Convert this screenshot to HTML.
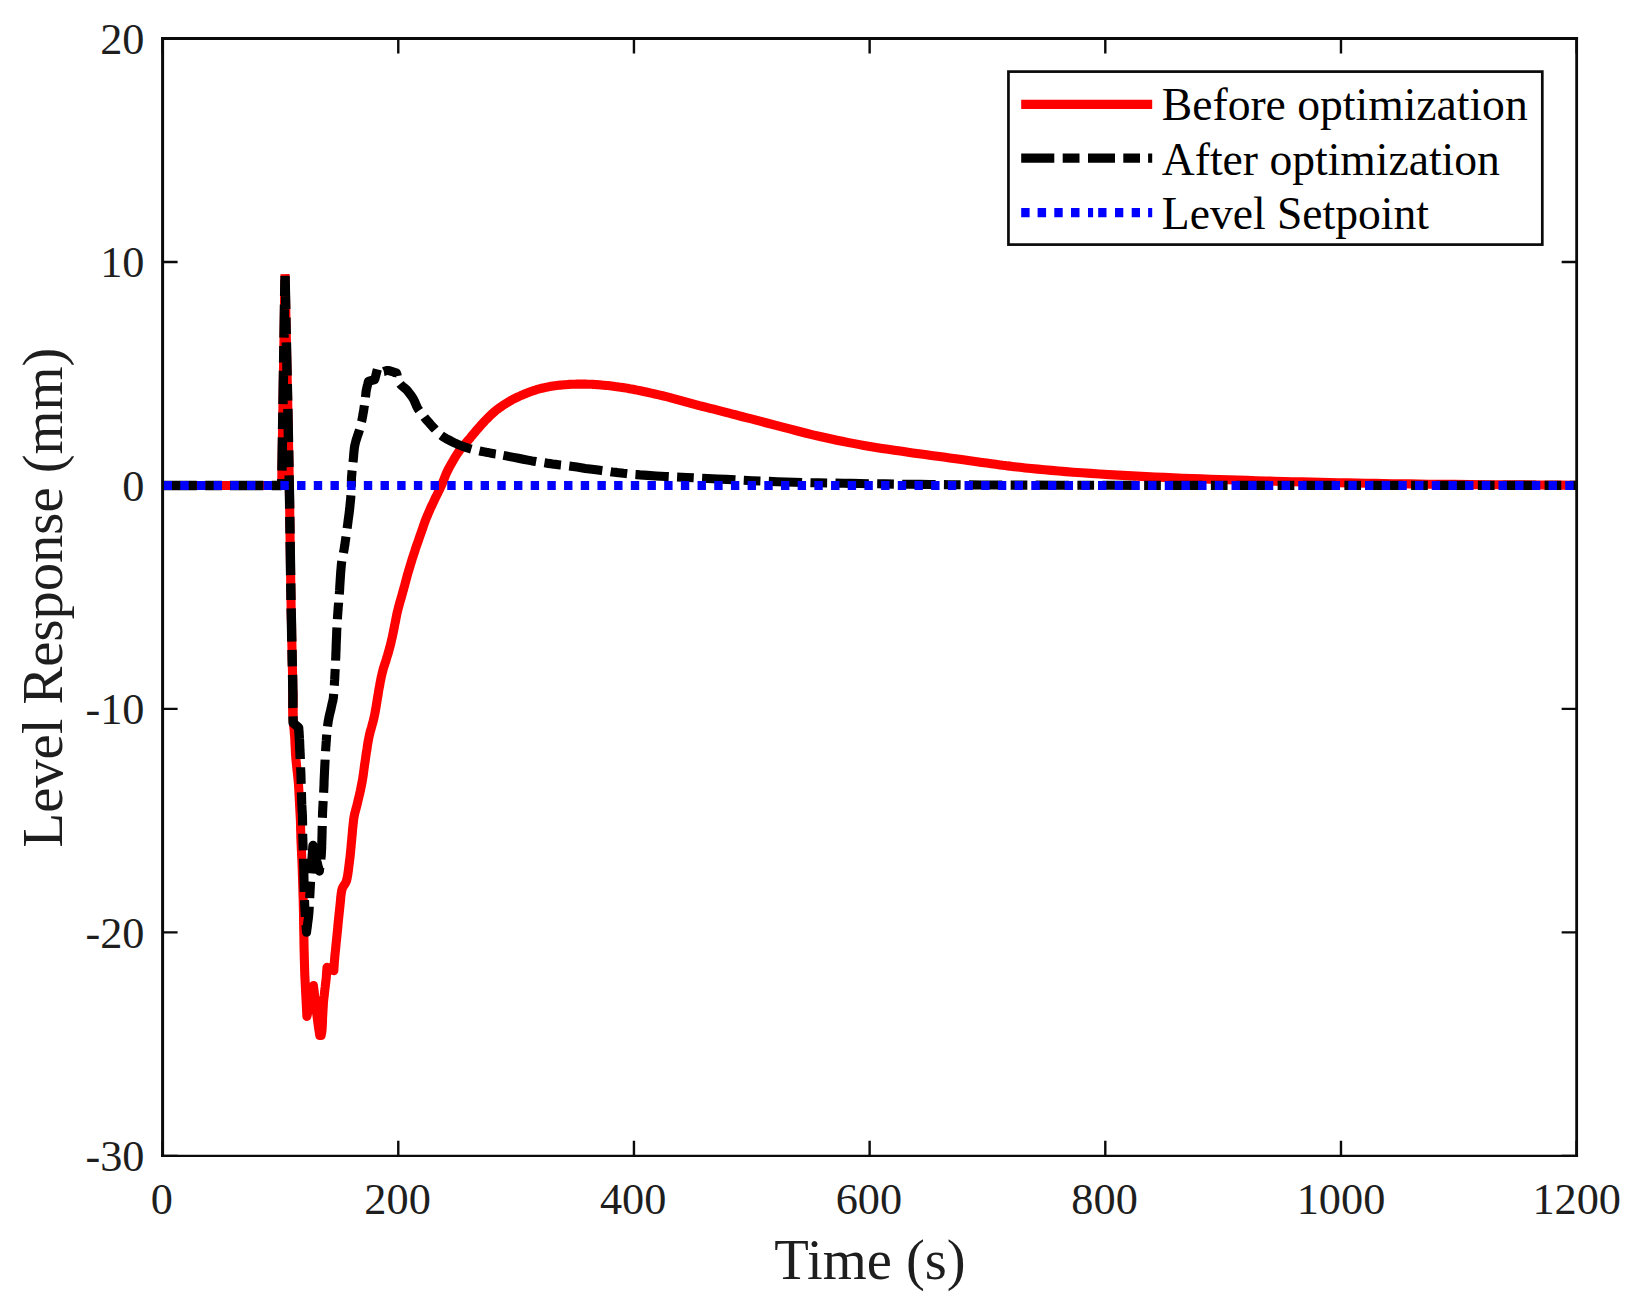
<!DOCTYPE html>
<html><head><meta charset="utf-8"><title>Level Response</title>
<style>html,body{margin:0;padding:0;background:#fff}svg{display:block}text{font-family:"Liberation Serif","Times New Roman",serif}</style>
</head><body>
<svg width="1640" height="1302" viewBox="0 0 1640 1302">
<rect width="1640" height="1302" fill="#fff"/>
<path d="M162.60 1155.85v-15M162.60 38.5v15M398.28 1155.85v-15M398.28 38.5v15M633.95 1155.85v-15M633.95 38.5v15M869.63 1155.85v-15M869.63 38.5v15M1105.30 1155.85v-15M1105.30 38.5v15M1340.98 1155.85v-15M1340.98 38.5v15M1576.65 1155.85v-15M1576.65 38.5v15M162.6 1155.85h15M1576.65 1155.85h-15M162.6 932.38h15M1576.65 932.38h-15M162.6 708.91h15M1576.65 708.91h-15M162.6 485.44h15M1576.65 485.44h-15M162.6 261.97h15M1576.65 261.97h-15M162.6 38.50h15M1576.65 38.50h-15" stroke="#0a0a0a" stroke-width="2.4" fill="none"/>
<clipPath id="ax"><rect x="162.6" y="38.5" width="1414.05" height="1117.35"/></clipPath><g clip-path="url(#ax)" fill="none" stroke-linejoin="round" stroke-width="9.1"><path d="M162.5 485.5L281.7 485.5L285.0 274.2L285.6 301.1L286.1 328.5L286.7 356.3L287.3 383.9L287.9 411.0L288.4 437.2L288.9 462.2L289.3 485.5L289.6 501.6L289.8 516.9L290.0 531.6L290.2 545.8L290.4 559.6L290.6 573.2L290.8 586.6L291.0 600.0L291.2 612.1L291.5 624.5L291.7 636.9L292.0 649.0L292.2 660.6L292.5 671.5L292.7 681.4L292.8 690.0L292.9 694.1L292.9 697.7L292.9 701.1L292.9 704.2L292.9 707.3L293.0 710.2L293.0 713.3L293.0 716.5" stroke="#f00" stroke-linejoin="bevel"/><path d="M292.8 690.0L292.8 693.3L292.8 696.7L292.8 700.1L292.8 703.5L292.8 706.9L292.8 710.2L292.9 713.4L293.0 716.5L293.1 719.1L293.3 721.6L293.5 724.0L293.7 726.4L294.0 728.7L294.2 731.1L294.4 733.5L294.6 736.0L294.8 738.7L294.9 741.4L295.0 744.1L295.2 746.9L295.3 749.6L295.4 752.4L295.6 755.2L295.8 758.0L296.1 761.0L296.4 763.9L296.7 766.9L297.0 770.0L297.4 773.0L297.7 776.0L298.0 779.0L298.3 782.0L298.5 784.9L298.7 787.9L298.9 790.9L299.0 793.8L299.2 796.8L299.3 799.6L299.5 802.4L299.6 805.0L299.7 807.0L299.8 808.9L299.9 810.8L300.0 812.6L300.1 814.4L300.2 816.2L300.3 818.1L300.4 820.0L300.5 822.2L300.5 824.4L300.6 826.7L300.6 829.0L300.7 831.3L300.8 833.7L300.8 836.1L300.9 838.6L301.0 841.7L301.2 845.0L301.3 848.3L301.5 851.7L301.6 855.1L301.8 858.7L302.0 862.3L302.1 866.0L302.3 870.5L302.4 875.0L302.6 879.7L302.7 884.5L302.9 889.4L303.0 894.4L303.2 899.6L303.3 905.0L303.5 912.3L303.6 920.0L303.7 928.1L303.9 936.4L304.0 944.7L304.2 953.0L304.4 961.0L304.6 968.6L304.8 974.9L305.1 981.0L305.4 987.0L305.7 992.9L306.0 998.8L306.3 1004.6L306.6 1010.5L306.9 1016.4L313.4 985.5L314.0 990.4L314.6 995.6L315.2 1000.8L315.8 1006.1L316.4 1011.1L317.0 1015.7L317.5 1019.7L317.9 1023.0L318.1 1024.2L318.2 1025.3L318.4 1026.2L318.5 1027.1L318.6 1027.9L318.7 1028.7L318.9 1029.5L319.0 1030.3L319.1 1031.0L319.2 1031.7L319.3 1032.3L319.4 1033.0L319.5 1033.6L319.6 1034.2L319.7 1034.9L319.8 1035.5L321.1 1035.5L321.2 1034.9L321.3 1034.3L321.5 1033.7L321.6 1033.1L321.7 1032.4L321.8 1031.8L321.9 1031.1L322.0 1030.3L322.1 1028.8L322.2 1027.2L322.3 1025.4L322.4 1023.5L322.5 1021.5L322.5 1019.5L322.6 1017.6L322.7 1015.7L322.8 1013.9L322.9 1012.1L323.0 1010.4L323.1 1008.6L323.2 1006.8L323.3 1005.0L323.4 1003.1L323.6 1001.1L323.8 998.5L324.2 995.8L324.5 992.9L324.8 990.0L325.2 987.1L325.5 984.3L325.8 981.7L326.1 979.2L326.3 977.5L326.4 976.0L326.5 974.5L326.6 973.0L326.7 971.6L326.8 970.2L326.9 968.8L327.0 967.3L333.8 970.7L333.9 969.1L334.0 967.6L334.1 966.1L334.2 964.6L334.3 963.0L334.4 961.4L334.6 959.8L334.7 958.0L334.9 955.4L335.2 952.7L335.5 949.9L335.8 946.9L336.1 943.9L336.4 940.9L336.7 937.9L337.0 935.0L337.3 932.1L337.6 929.2L337.9 926.3L338.1 923.4L338.4 920.5L338.7 917.7L339.0 914.8L339.3 912.0L339.6 909.3L339.9 906.4L340.2 903.4L340.5 900.5L340.7 897.8L341.0 895.3L341.3 893.1L341.6 891.4L341.7 890.8L341.8 890.4L341.9 889.9L342.0 889.6L342.1 889.2L342.2 888.8L342.3 888.4L342.5 888.0L342.8 887.3L343.2 886.6L343.7 885.8L344.2 885.0L344.7 884.3L345.2 883.5L345.7 882.7L346.0 882.0L346.2 881.5L346.4 881.0L346.6 880.5L346.7 880.0L346.8 879.5L346.9 878.9L347.1 878.3L347.2 877.6L347.6 875.6L348.0 873.0L348.4 870.1L348.8 866.9L349.2 863.7L349.6 860.4L350.0 857.3L350.3 854.5L350.5 852.4L350.7 850.4L350.9 848.4L351.1 846.5L351.2 844.6L351.4 842.7L351.6 840.7L351.8 838.6L352.0 836.0L352.3 833.2L352.5 830.3L352.8 827.4L353.1 824.6L353.4 821.8L353.7 819.1L354.1 816.7L354.4 815.1L354.7 813.6L355.1 812.2L355.4 810.9L355.8 809.5L356.2 808.1L356.6 806.6L357.0 805.0L357.6 802.5L358.2 799.8L358.9 797.0L359.6 794.0L360.3 791.0L360.9 788.0L361.5 785.0L362.1 782.0L362.6 779.0L363.1 776.0L363.5 773.0L363.9 770.0L364.3 767.0L364.7 763.9L365.2 761.0L365.6 758.0L366.0 755.2L366.4 752.3L366.9 749.5L367.3 746.7L367.7 743.9L368.2 741.2L368.7 738.6L369.2 736.0L369.7 733.9L370.2 731.8L370.8 729.7L371.4 727.7L371.9 725.8L372.5 723.8L373.0 721.9L373.5 720.0L373.9 718.3L374.2 716.6L374.6 715.0L374.9 713.4L375.2 711.8L375.5 710.1L375.8 708.5L376.1 706.8L376.4 704.9L376.7 703.0L377.0 701.1L377.3 699.2L377.6 697.2L378.0 695.3L378.3 693.3L378.6 691.4L378.9 689.4L379.3 687.4L379.7 685.4L380.0 683.4L380.4 681.4L380.8 679.6L381.1 677.8L381.5 676.1L381.7 675.0L382.0 674.0L382.2 673.0L382.4 672.1L382.7 671.2L382.9 670.3L383.1 669.3L383.4 668.4L383.7 667.5L384.0 666.5L384.3 665.6L384.6 664.7L384.9 663.8L385.2 662.8L385.6 661.8L385.9 660.7L386.4 659.0L386.9 657.2L387.5 655.4L388.1 653.4L388.7 651.4L389.2 649.4L389.8 647.4L390.3 645.4L390.8 643.5L391.2 641.6L391.6 639.7L392.1 637.8L392.5 635.9L392.9 634.0L393.3 632.0L393.7 630.0L394.2 627.7L394.6 625.4L395.1 623.0L395.6 620.7L396.0 618.3L396.5 615.8L397.0 613.4L397.6 611.0L398.2 608.5L398.9 605.9L399.6 603.3L400.3 600.8L401.1 598.2L401.8 595.6L402.5 593.1L403.2 590.6L403.8 588.3L404.5 585.9L405.1 583.6L405.7 581.3L406.3 579.1L406.9 576.8L407.5 574.5L408.2 572.2L408.9 569.9L409.6 567.6L410.3 565.3L411.0 562.9L411.7 560.6L412.4 558.3L413.2 556.0L413.9 553.7L414.7 551.4L415.4 549.1L416.2 546.8L417.0 544.5L417.8 542.2L418.6 539.9L419.4 537.6L420.2 535.3L421.0 533.0L421.8 530.7L422.6 528.4L423.4 526.1L424.2 523.8L425.0 521.5L425.9 519.2L426.8 516.9L427.8 514.6L428.8 512.3L429.8 510.0L430.8 507.6L431.9 505.4L433.0 503.1L434.0 500.9L435.0 498.8L435.8 497.0L436.7 495.3L437.5 493.7L438.3 492.0L439.1 490.4L439.9 488.8L440.7 487.1L441.5 485.4L442.3 483.5L443.1 481.6L443.8 479.7L444.6 477.8L445.3 475.9L446.1 473.9L447.0 471.9L448.0 469.9L449.3 467.4L450.7 464.9L452.2 462.2L453.8 459.5L455.3 456.9L456.9 454.4L458.5 452.0L460.0 449.9L461.1 448.4L462.2 447.1L463.2 445.8L464.3 444.6L465.3 443.5L466.4 442.3L467.4 441.1L468.5 439.9L469.6 438.7L470.6 437.4L471.6 436.1L472.7 434.9L473.7 433.6L474.8 432.4L475.8 431.1L476.9 429.9L478.0 428.6L479.1 427.4L480.2 426.1L481.3 424.8L482.4 423.6L483.6 422.3L484.7 421.1L485.9 419.9L487.1 418.7L488.3 417.5L489.5 416.3L490.7 415.1L492.0 413.9L493.2 412.8L494.5 411.6L495.9 410.5L497.4 409.3L499.0 408.1L500.7 407.0L502.3 405.8L504.0 404.7L505.7 403.6L507.4 402.6L509.0 401.6L510.4 400.8L511.7 400.0L513.1 399.3L514.4 398.6L515.8 398.0L517.1 397.3L518.5 396.7L520.0 396.0L521.7 395.2L523.5 394.5L525.3 393.7L527.1 393.0L529.0 392.3L530.9 391.6L532.7 390.9L534.6 390.3L536.4 389.7L538.3 389.2L540.2 388.7L542.0 388.2L543.9 387.8L545.8 387.3L547.6 387.0L549.5 386.6L551.3 386.3L553.1 386.0L554.9 385.7L556.7 385.5L558.6 385.3L560.4 385.1L562.2 385.0L564.0 384.8L565.8 384.7L567.6 384.5L569.4 384.4L571.2 384.3L573.1 384.2L574.9 384.2L576.7 384.1L578.5 384.1L580.3 384.1L582.2 384.1L584.0 384.1L585.8 384.1L587.7 384.2L589.5 384.2L591.4 384.3L593.2 384.4L595.0 384.5L596.9 384.6L598.7 384.8L600.5 384.9L602.3 385.1L604.2 385.2L606.0 385.4L607.8 385.6L609.6 385.8L611.5 386.0L613.3 386.2L615.1 386.5L616.9 386.7L618.8 387.0L620.6 387.2L622.4 387.5L624.2 387.8L626.0 388.1L627.7 388.3L629.4 388.7L631.2 389.0L633.1 389.3L635.0 389.7L637.1 390.1L640.3 390.8L643.7 391.5L647.3 392.3L651.1 393.1L654.9 394.0L658.8 394.9L662.6 395.8L666.3 396.7L670.0 397.6L673.6 398.6L677.3 399.6L681.0 400.6L684.6 401.6L688.3 402.6L691.9 403.6L695.6 404.6L699.2 405.6L702.9 406.5L706.5 407.4L710.1 408.3L713.7 409.2L717.4 410.2L721.1 411.1L724.9 412.1L729.1 413.2L733.2 414.3L737.4 415.3L741.7 416.5L746.0 417.6L750.5 418.7L755.1 419.9L760.0 421.2L766.8 423.0L774.1 424.9L781.7 426.9L789.6 428.9L797.5 431.0L805.3 433.0L812.8 434.8L820.0 436.5L825.8 437.8L831.4 439.0L836.8 440.2L842.2 441.3L847.5 442.4L852.9 443.4L858.3 444.4L863.9 445.4L869.9 446.4L875.9 447.4L882.0 448.4L888.1 449.3L894.3 450.2L900.4 451.1L906.6 452.0L912.7 452.9L918.8 453.8L925.0 454.6L931.2 455.5L937.5 456.3L943.6 457.1L949.7 457.9L955.7 458.7L961.5 459.5L966.6 460.2L971.7 460.9L976.8 461.7L981.8 462.4L986.7 463.1L991.4 463.7L995.8 464.3L1000.0 464.9L1002.7 465.3L1005.2 465.6L1007.6 465.9L1009.8 466.1L1012.1 466.4L1014.5 466.7L1017.1 467.0L1020.0 467.3L1025.4 467.9L1031.3 468.5L1037.6 469.1L1044.4 469.7L1051.4 470.4L1058.6 471.0L1065.8 471.6L1073.0 472.2L1081.6 472.8L1090.4 473.4L1099.5 474.0L1108.7 474.6L1118.1 475.1L1127.5 475.6L1136.8 476.1L1146.0 476.6L1155.2 477.0L1164.4 477.4L1173.5 477.8L1182.7 478.2L1191.9 478.5L1201.1 478.9L1210.3 479.2L1219.5 479.5L1228.7 479.8L1237.8 480.1L1247.0 480.4L1256.1 480.7L1265.3 481.0L1274.4 481.2L1283.5 481.5L1292.7 481.7L1301.9 481.9L1311.0 482.1L1320.2 482.3L1329.4 482.5L1338.5 482.7L1347.7 482.9L1356.8 483.0L1366.0 483.2L1375.0 483.4L1383.7 483.5L1392.4 483.7L1401.1 483.8L1410.0 483.9L1419.1 484.1L1428.8 484.2L1439.0 484.3L1454.1 484.4L1470.3 484.6L1487.4 484.7L1505.1 484.8L1523.0 484.9L1541.1 485.0L1559.0 485.1L1576.5 485.2" stroke="#f00"/><path d="M163.6 485.5L281.7 485.5L285.0 273.6L285.6 300.5L286.1 328.1L286.7 355.9L287.3 383.6L287.9 410.8L288.4 437.1L288.9 462.1L289.3 485.5L289.6 501.6L289.8 516.9L290.0 531.6L290.2 545.8L290.4 559.6L290.6 573.2L290.8 586.6L291.0 600.0L291.2 612.1L291.5 624.5L291.7 636.9L292.0 649.0L292.2 660.6L292.5 671.5L292.7 681.4L292.8 690.0L292.9 694.1L292.9 697.7L292.9 701.1L292.9 704.2L292.9 707.3L293.0 710.2L293.0 713.3L293.0 716.5" stroke="#000" stroke-width="9.4" stroke-linejoin="bevel" stroke-dasharray="33.24 8.31 16.62 8.31"/><path d="M293.0 716.5L293.2 723.0L298.6 727.5L298.7 728.5L298.7 729.5L298.8 730.5L298.9 731.5L299.0 732.5L299.0 733.6L299.1 734.7L299.2 736.0L299.3 738.3L299.5 740.9L299.6 743.7L299.7 746.6L299.8 749.6L300.0 752.5L300.1 755.3L300.2 758.0L300.2 759.0" stroke="#000" stroke-width="9.4"/><path d="M300.2 759.0L300.3 760.1L300.4 762.1L300.5 764.0L300.6 765.8L300.6 767.7L300.7 769.7L300.8 771.8L300.9 774.0L301.0 777.5L301.1 781.4L301.2 785.6L301.3 789.9L301.5 794.2L301.6 798.2L301.7 801.9L301.8 805.0L301.9 806.5L302.0 807.8L302.0 809.0L302.1 810.1L302.2 811.2L302.3 812.3L302.3 813.6L302.4 815.0L302.5 817.4L302.5 820.0L302.6 822.9L302.6 825.8L302.6 828.8L302.7 831.9L302.7 835.0L302.8 838.0L302.9 841.2L303.0 844.5L303.1 847.7L303.2 851.0L303.3 854.4L303.5 857.8L303.6 861.4L303.7 865.0L303.8 869.7L303.9 874.6L304.0 879.8L304.1 885.0L304.2 890.2L304.4 895.4L304.5 900.3L304.7 905.0L304.9 908.7L305.1 912.2L305.3 915.6L305.5 919.0L305.8 922.3L306.0 925.6L306.3 928.9L306.5 932.3L306.8 930.1L307.1 928.0L307.4 925.9L307.6 923.8L307.9 921.7L308.2 919.5L308.5 917.2L308.7 914.8L309.0 911.4L309.2 907.8L309.5 903.9L309.7 900.0L309.8 896.1L310.0 892.2L310.2 888.5L310.4 885.0L310.5 882.3L310.7 879.7L310.8 877.2L310.9 874.7L311.1 872.3L311.2 869.9L311.3 867.5L311.5 865.0L311.7 862.5L311.8 860.1L312.0 857.6L312.2 855.2L312.4 852.7L312.5 850.3L312.7 847.8L312.9 845.4L313.3 847.0L313.7 848.5L314.1 850.1L314.4 851.7L314.8 853.3L315.2 854.8L315.6 856.4L316.0 858.0L316.4 859.6L316.8 861.3L317.3 862.9L317.7 864.5L318.1 866.2L318.5 867.8L319.0 869.5L319.4 871.1L319.6 869.1L319.9 867.1L320.2 865.0L320.4 863.0L320.7 861.0L320.9 859.0L321.1 857.0L321.3 855.0L321.4 853.1L321.5 851.2L321.6 849.3L321.7 847.4L321.7 845.6L321.8 843.7L321.8 841.8L321.9 840.0L321.9 838.2L322.0 836.5L322.0 834.8L322.1 833.0L322.1 831.3L322.1 829.6L322.2 827.8L322.2 826.0L322.3 824.1L322.3 822.1L322.4 820.1L322.4 818.1L322.5 816.1L322.5 814.1L322.6 812.0L322.7 810.0L322.8 807.9L322.9 805.9L323.0 803.9L323.1 801.9L323.2 799.8L323.4 797.7L323.5 795.4L323.6 793.0L323.8 789.3L324.0 785.3L324.1 780.9L324.3 776.5L324.5 772.1L324.7 767.7L324.9 763.7L325.1 760.0L325.2 757.6L325.3 755.4L325.5 753.2L325.6 751.1L325.7 749.1L325.8 747.1L326.0 745.1L326.1 743.0L326.3 740.8L326.4 738.6L326.6 736.3L326.8 734.0L327.0 731.8L327.2 729.7L327.4 727.8L327.6 726.0L327.7 725.0L327.8 724.1L328.0 723.2L328.1 722.4L328.2 721.6L328.3 720.8L328.5 719.8L328.7 718.8L329.1 716.7L329.7 714.1L330.4 711.3L331.1 708.4L331.7 705.5L332.3 702.8L332.9 700.5L333.2 698.6L333.3 698.0L333.4 697.5L333.4 697.0L333.5 696.6L333.5 696.2L333.5 695.7L333.6 695.2L333.6 694.6L333.7 693.0L333.9 691.1L334.0 688.9L334.2 686.5L334.4 684.1L334.5 681.7L334.7 679.3L334.8 677.0L334.9 674.9L335.0 672.9L335.1 671.0L335.2 669.0L335.3 667.0L335.4 664.9L335.5 662.7L335.6 660.4L335.8 656.8L335.9 652.8L336.1 648.5L336.2 644.1L336.4 639.8L336.6 635.5L336.7 631.5L336.9 627.9L337.0 625.6L337.1 623.4L337.3 621.3L337.4 619.3L337.5 617.3L337.6 615.3L337.8 613.4L337.9 611.3L338.1 609.2L338.2 607.2L338.4 605.1L338.6 603.1L338.7 601.0L338.9 598.8L339.1 596.5L339.3 594.1L339.6 590.3L339.8 586.1L340.1 581.5L340.4 576.8L340.7 572.2L341.1 567.9L341.4 564.1L341.8 560.9L342.0 559.6L342.2 558.4L342.5 557.3L342.7 556.3L342.9 555.4L343.2 554.4L343.4 553.4L343.6 552.3L343.8 550.9L344.1 549.6L344.3 548.2L344.5 546.7L344.8 545.2L345.0 543.6L345.2 541.9L345.5 540.0L346.1 535.9L346.7 531.1L347.5 525.7L348.2 520.0L349.0 514.3L349.7 508.6L350.2 503.3L350.7 498.5L350.9 495.2L351.1 492.1L351.2 489.0L351.3 486.1L351.4 483.3L351.4 480.5L351.5 477.8L351.7 475.2L351.9 473.2L352.0 471.3L352.2 469.4L352.4 467.6L352.6 465.8L352.8 464.1L353.0 462.3L353.2 460.4L353.4 458.4L353.6 456.5L353.7 454.5L353.9 452.5L354.1 450.5L354.3 448.5L354.6 446.5L355.0 444.5L355.5 442.5L356.0 440.5L356.7 438.5L357.3 436.5L358.0 434.5L358.7 432.5L359.3 430.5L359.9 428.5L360.4 426.5L360.9 424.5L361.3 422.5L361.8 420.6L362.2 418.6L362.6 416.6L362.9 414.5L363.3 412.5L363.7 410.3L364.0 408.0L364.4 405.6L364.7 403.2L365.0 400.9L365.3 398.7L365.5 396.9L365.7 395.3L365.8 394.7L365.8 394.2L365.9 393.8L365.9 393.3L365.9 392.9L366.0 392.5L366.0 392.0L366.1 391.5L366.3 390.5L366.5 389.3L366.8 388.0L367.1 386.7L367.4 385.3L367.8 384.0L368.1 382.6L368.4 381.3L374.8 379.5L377.6 368.4L378.2 368.8L378.7 369.3L379.3 369.8L379.9 370.3L380.4 370.8L381.0 371.2L381.6 371.5L382.2 371.7L382.8 371.7L383.4 371.6L384.0 371.5L384.6 371.2L385.3 371.0L385.9 370.7L386.6 370.6L387.3 370.5L388.2 370.6L389.3 370.8L390.3 371.0L391.4 371.3L392.5 371.7L393.5 372.0L394.3 372.3L395.0 372.5L395.2 372.6L395.5 372.6L395.6 372.7L395.8 372.8L396.0 372.8L396.2 372.9L396.3 372.9L396.5 373.0L396.9 374.3L397.2 375.7L397.5 377.1L397.8 378.5L398.2 379.8L398.6 381.1L399.1 382.3L399.7 383.4L400.4 384.3L401.1 385.1L402.0 385.9L402.9 386.7L403.8 387.3L404.6 388.0L405.4 388.6L406.0 389.2L406.3 389.5L406.6 389.8L406.8 390.1L407.0 390.3L407.2 390.6L407.5 390.8L407.7 391.1L408.0 391.5L408.6 392.2L409.2 393.0L409.9 393.9L410.6 394.9L411.4 395.9L412.1 396.9L412.8 398.0L413.4 399.0L414.0 400.1L414.5 401.2L415.0 402.4L415.5 403.5L416.0 404.7L416.5 405.9L417.1 407.1L417.7 408.2L418.4 409.4L419.2 410.5L420.0 411.7L420.9 412.8L421.7 413.9L422.6 415.1L423.6 416.2L424.5 417.4L425.6 418.8L426.8 420.2L428.1 421.6L429.4 423.1L430.6 424.5L431.9 425.9L433.1 427.3L434.3 428.5L435.2 429.4L436.0 430.3L436.7 431.2L437.5 432.0L438.3 432.8L439.1 433.6L440.0 434.4L441.0 435.2L442.5 436.3L444.1 437.3L445.9 438.4L447.7 439.4L449.6 440.4L451.5 441.4L453.4 442.3L455.2 443.2L456.9 444.0L458.7 444.7L460.4 445.4L462.1 446.1L463.9 446.7L465.6 447.3L467.5 447.9L469.3 448.5L471.4 449.1L473.5 449.6L475.6 450.1L477.8 450.6L480.0 451.1L482.2 451.5L484.3 451.9L486.3 452.3L488.0 452.6L489.6 452.9L491.2 453.2L492.8 453.5L494.3 453.8L495.9 454.0L497.4 454.3L499.0 454.6" stroke="#000" stroke-dasharray="33.24 8.31 16.62 8.31" stroke-dashoffset="33.24"/><path d="M499.0 454.6L499.6 454.7L500.2 454.8L500.6 454.9L501.1 455.0L501.6 455.1L502.1 455.2L502.7 455.3L503.4 455.4L506.1 455.9L509.6 456.6L513.8 457.4L518.4 458.3L523.1 459.2L527.7 460.1L532.0 460.9L535.7 461.5L538.0 461.9L540.2 462.2L542.3 462.5L544.3 462.8L546.2 463.1L548.2 463.4L550.2 463.6L552.2 463.9L554.3 464.2L556.3 464.4L558.4 464.7L560.4 465.0L562.5 465.2L564.6 465.5L566.9 465.8L569.3 466.1L572.9 466.6L576.9 467.1L581.1 467.7L585.4 468.4L589.8 469.0L594.0 469.6L598.0 470.1L601.6 470.6L604.0 470.9L606.2 471.2L608.3 471.5L610.4 471.7L612.4 472.0L614.4 472.2L616.5 472.4L618.7 472.7L621.2 473.0L623.5 473.3L625.9 473.5L628.4 473.8L630.9 474.1L633.7 474.4L636.7 474.6L640.0 474.9L647.4 475.4L656.1 476.0L665.8 476.5L676.1 477.0L686.7 477.5L697.4 478.0L707.8 478.5L717.6 479.0L726.4 479.4L735.0 479.8L743.6 480.3L752.1 480.7L760.6 481.0L769.0 481.4L777.5 481.7L785.9 482.0L794.2 482.3L802.4 482.5L810.6 482.7L818.8 482.8L827.0 483.0L835.2 483.1L843.4 483.3L851.7 483.4L860.1 483.5L868.5 483.7L876.8 483.8L885.2 483.9L893.6 484.1L902.2 484.2L911.0 484.3L920.0 484.4L930.1 484.5L939.8 484.6L949.4 484.7L959.4 484.8L970.0 484.9L981.8 485.0L995.0 485.0L1010.0 485.1L1057.5 485.2L1117.4 485.3L1186.8 485.4L1262.8 485.4L1342.7 485.4L1423.5 485.4L1502.4 485.4L1576.5 485.4" stroke="#000" stroke-dasharray="33.372 8.343 16.686 8.343" stroke-dashoffset="62.27"/><path d="M163.6 485.5H1580" stroke="#00f" stroke-width="8.8" stroke-dasharray="8.4 8.286"/></g>
<g stroke="#0a0a0a" fill="none"><path d="M162.6 37.1V1157.0" stroke-width="3"/><path d="M1576.65 37.1V1157.0" stroke-width="2.8"/><path d="M161.1 38.5H1578.0500000000002" stroke-width="2.8"/><path d="M161.1 1155.85H1578.0500000000002" stroke-width="2.3"/></g>
<g font-size="44.3" fill="#1e1e1e"><text x="161.9" y="1213.8" text-anchor="middle">0</text><text x="397.6" y="1213.8" text-anchor="middle">200</text><text x="633.2" y="1213.8" text-anchor="middle">400</text><text x="868.9" y="1213.8" text-anchor="middle">600</text><text x="1104.6" y="1213.8" text-anchor="middle">800</text><text x="1341.0" y="1213.8" text-anchor="middle">1000</text><text x="1576.7" y="1213.8" text-anchor="middle">1200</text><text x="144.5" y="1171.0" text-anchor="end">-30</text><text x="144.5" y="947.6" text-anchor="end">-20</text><text x="144.5" y="724.1" text-anchor="end">-10</text><text x="144.5" y="500.6" text-anchor="end">0</text><text x="144.5" y="277.2" text-anchor="end">10</text><text x="144.5" y="53.7" text-anchor="end">20</text></g>
<text x="870" y="1278.6" text-anchor="middle" font-size="56.6" fill="#1e1e1e">Time (s)</text>
<text transform="translate(62.3 597.5) rotate(-90)" text-anchor="middle" font-size="56.6" fill="#1e1e1e">Level Response (mm)</text>
<rect x="1008.45" y="71.6" width="533.85" height="173.0" fill="#fff" stroke="#0a0a0a" stroke-width="2.7"/>
<path d="M1021.2 104.3H1152.2" stroke="#f00" stroke-width="9.2" fill="none"/><path d="M1021.2 158.2H1054.3M1062.7 158.2H1079.5M1088 158.2H1115M1123.3 158.2H1140M1148.1 158.2H1152.2" stroke="#000" stroke-width="9.2" fill="none"/><path d="M1021.2 212.7H1029.6M1037.6 212.7H1046.1M1054.3 212.7H1062.7M1071 212.7H1079.5M1088 212.7H1093.1M1098.2 212.7H1106.5M1115 212.7H1123.3M1131.7 212.7H1140M1148.1 212.7H1152.2" stroke="#00f" stroke-width="9.2" fill="none"/><g font-size="45.6" fill="#000"><text x="1161.8" y="120.4">Before optimization</text><text x="1161.8" y="174.5">After optimization</text><text x="1161.8" y="228.6">Level Setpoint</text></g>
</svg>
</body></html>
